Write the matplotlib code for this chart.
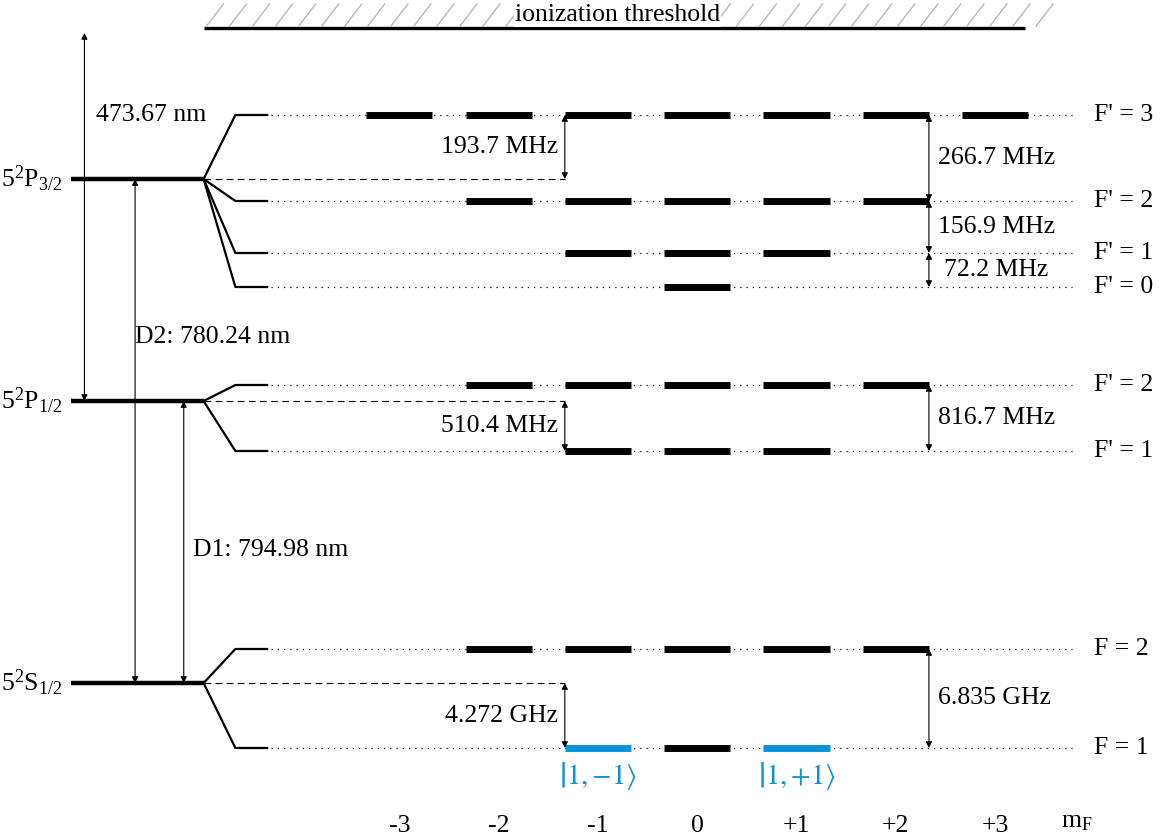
"""
Hyperfine level diagram of the Rb-87 D lines (5S, 5P1/2, 5P3/2)
with Zeeman sublevels m_F and the ionization threshold.
"""

import matplotlib.pyplot as plt

# Fine structure levels (vertical position in diagram units, top = 0)
fine_labels = [r'$\mathregular{5^2S_{1/2}}$', r'$\mathregular{5^2P_{1/2}}$', r'$\mathregular{5^2P_{3/2}}$']
fine_y = [683, 401, 179]

# Hyperfine levels belonging to each fine level
hf_F = [[1, 2], [1, 2], [0, 1, 2, 3]]
hf_y = [[748, 649], [451, 385], [287, 253, 201, 115]]
hf_prefix = ['F', "F'", "F'"]

# Zeeman sublevels
mf_values = [-3, -2, -1, 0, 1, 2, 3]
mf_labels = ['-3', '-2', '-1', '0', '+1', '+2', '+3']
highlight = {(0, 1, -1): r'$\left|1,{-}1\right\rangle$', (0, 1, 1): r'$\left|1,{+}1\right\rangle$'}

# Hyperfine splittings: (label, x side, y from, y to)
splittings = [
    ('193.7 MHz', 'left', 179, 115),
    ('266.7 MHz', 'right', 115, 201),
    ('156.9 MHz', 'right', 201, 253),
    ('72.2 MHz', 'right', 253, 287),
    ('510.4 MHz', 'left', 401, 451),
    ('816.7 MHz', 'right', 385, 451),
    ('4.272 GHz', 'left', 683, 748),
    ('6.835 GHz', 'right', 649, 748),
]

# Optical transitions: (label, x, y from, y to, label x, label y)
transitions = [
    ('473.67 nm', -6.17, 401, 33, -6.05, 115),
    ('D2: 780.24 nm', -5.66, 683, 179, -5.66, 337),
    ('D1: 794.98 nm', -5.17, 683, 401, -5.08, 550),
]
threshold_y = 28

BLUE = '#0a93d6'
FS = 18.5


def arrow(ax, x, y0, y1):
    ax.annotate('', xy=(x, y1), xytext=(x, y0),
                arrowprops=dict(arrowstyle='<|-|>', mutation_scale=9, lw=0.8,
                                shrinkA=0, shrinkB=0, color='black'))


def main():
    plt.rcParams['font.family'] = ['Liberation Serif', 'DejaVu Serif']
    plt.rcParams['mathtext.fontset'] = 'stix'

    fig = plt.figure(figsize=(11.66, 8.4), dpi=100)
    ax = fig.add_axes([0, 0, 1, 1])
    ax.set_xlim(-7.02, 4.72)
    ax.set_ylim(840, 0)
    ax.axis('off')

    half = 0.333  # half width of a Zeeman bar
    x_fine0, x_fine1 = -6.31, -4.97
    x_split, x_hf_end = -4.65, -4.33
    x_dot1 = 3.77

    for i, (lab, fy) in enumerate(zip(fine_labels, fine_y)):
        # fine structure level
        ax.plot([x_fine0, x_fine1], [fy, fy], color='black', lw=3.2, solid_capstyle='butt')
        ax.text(-6.39, fy, lab, ha='right', va='center', fontsize=FS)
        # dashed reference line to the splitting arrows
        ax.plot([x_fine1, -1 - half], [fy, fy], color='black', lw=0.8, ls=(0, (6, 4)))
        for F, y in zip(hf_F[i], hf_y[i]):
            ax.plot([x_fine1, x_split, x_hf_end], [fy, y, y], color='black', lw=1.6)
            ax.plot([x_hf_end + 0.04, x_dot1], [y, y], color='black', lw=0.9, ls=(0, (1, 4)))
            for m in range(-F, F + 1):
                c = BLUE if (i, F, m) in highlight else 'black'
                ax.plot([m - half, m + half], [y, y], color=c, lw=5.0, solid_capstyle='butt')
                if (i, F, m) in highlight:
                    ax.text(m, y + 28, highlight[(i, F, m)], color=BLUE, ha='center',
                            va='center', fontsize=FS + 2)
            ax.text(4.0, y, f"{hf_prefix[i]} = {F}", ha='left', va='center', fontsize=FS)

    # hyperfine splitting arrows
    for lab, side, y0, y1 in splittings:
        if side == 'left':
            x = -1 - half
            ax.text(x - 0.07, (y0 + y1) / 2, lab, ha='right', va='center', fontsize=FS)
        else:
            x = 2 + half
            dx = 0.15 if abs(y1 - y0) < 40 else 0.09
            ax.text(x + dx, (y0 + y1) / 2, lab, ha='left', va='center', fontsize=FS)
        arrow(ax, x, y0, y1)

    # optical transitions
    for lab, x, y0, y1, tx, ty in transitions:
        arrow(ax, x, y0, y1)
        ax.text(tx, ty, lab, ha='left', va='center', fontsize=FS)

    # ionization threshold with hatching
    x_th0, x_th1 = -4.97, 3.30
    ax.plot([x_th0, x_th1], [threshold_y, threshold_y], color='black', lw=2.4, solid_capstyle='butt')
    step = 0.232
    k = 0
    while x_th0 + k * step < 3.40:
        xb = x_th0 + 0.03 + k * step
        ax.plot([xb, xb + 0.17], [threshold_y - 2, threshold_y - 24], color='#b8b8b8', lw=1.0)
        k += 1
    ax.text(-0.8, threshold_y - 13, 'ionization threshold', ha='center', va='center',
            fontsize=FS, bbox=dict(facecolor='white', edgecolor='none', pad=0.5))

    # m_F axis labels
    for m, lab in zip(mf_values, mf_labels):
        ax.text(m, 826, lab, ha='center', va='center', fontsize=FS)
    ax.text(3.66, 822, r'$\mathregular{m_F}$', ha='left', va='center', fontsize=FS)

    fig.savefig('out.png', dpi=100)


if __name__ == "__main__":
    main()
